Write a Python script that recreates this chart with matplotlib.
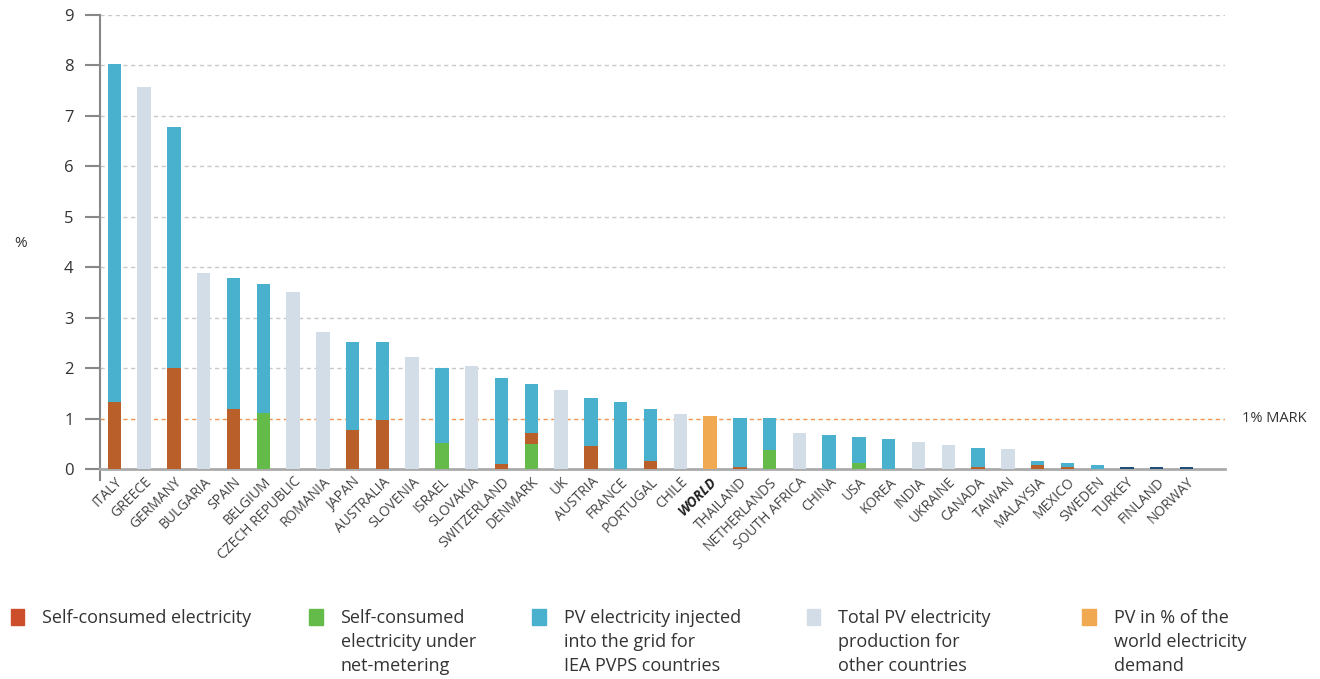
import matplotlib.pyplot as plt
import matplotlib.patches as mpatches
import numpy as np

plt.rcParams['font.family'] = ['Open Sans', 'DejaVu Sans']

countries = ['ITALY', 'GREECE', 'GERMANY', 'BULGARIA', 'SPAIN', 'BELGIUM',
             'CZECH REPUBLIC', 'ROMANIA', 'JAPAN', 'AUSTRALIA', 'SLOVENIA',
             'ISRAEL', 'SLOVAKIA', 'SWITZERLAND', 'DENMARK', 'UK', 'AUSTRIA',
             'FRANCE', 'PORTUGAL', 'CHILE', 'WORLD', 'THAILAND', 'NETHERLANDS',
             'SOUTH AFRICA', 'CHINA', 'USA', 'KOREA', 'INDIA', 'UKRAINE',
             'CANADA', 'TAIWAN', 'MALAYSIA', 'MEXICO', 'SWEDEN', 'TURKEY',
             'FINLAND', 'NORWAY']

# self-consumed electricity
self_cons = [1.33, 0, 2.0, 0, 1.19, 0, 0, 0, 0.77, 0.97, 0,
             0, 0, 0.10, 0.21, 0, 0.46, 0, 0.16, 0, 0, 0.04, 0,
             0, 0, 0, 0, 0, 0, 0.04, 0, 0.08, 0.04, 0, 0, 0, 0]
# self-consumed under net-metering
net_meter = [0, 0, 0, 0, 0, 1.10, 0, 0, 0, 0, 0,
             0.51, 0, 0, 0.50, 0, 0, 0, 0, 0, 0, 0, 0.38,
             0, 0, 0.11, 0, 0, 0, 0, 0, 0, 0, 0, 0, 0, 0]
# injected into the grid (IEA PVPS)
injected = [6.69, 0, 4.77, 0, 2.60, 2.57, 0, 0, 1.75, 1.55, 0,
            1.49, 0, 1.70, 0.98, 0, 0.95, 1.33, 1.03, 0, 0, 0.97, 0.63,
            0, 0.67, 0.52, 0.59, 0, 0, 0.37, 0, 0.07, 0.07, 0.07, 0, 0, 0]
# total PV production, other countries
other_total = [0, 7.57, 0, 3.88, 0, 0, 3.51, 2.72, 0, 0, 2.22,
               0, 2.04, 0, 0, 1.57, 0, 0, 0, 1.09, 0, 0, 0,
               0.71, 0, 0, 0, 0.53, 0.47, 0, 0.39, 0, 0, 0, 0, 0, 0]
# world share
world = [0] * 20 + [1.05] + [0] * 16
# very small values shown in dark blue
tiny = [0] * 34 + [0.04, 0.04, 0.04]

legend_labels = ['Self-consumed electricity',
                 'Self-consumed\nelectricity under\nnet-metering',
                 'PV electricity injected\ninto the grid for\nIEA PVPS countries',
                 'Total PV electricity\nproduction for\nother countries',
                 'PV in % of the\nworld electricity\ndemand']

c_self = '#B95F2A'
c_net = '#65BB4A'
c_inj = '#49B1CE'
c_other = '#D3DDE8'
c_world = '#F0A851'
c_tiny = '#1F4E79'

fig = plt.figure(figsize=(13.2, 6.79), dpi=100)
ax = fig.add_axes([0.0758, 0.3093, 0.852, 0.6686])

x = np.arange(len(countries))
w = 0.45
s = np.array(self_cons)
n = np.array(net_meter)
ax.bar(x, n, w, color=c_net, zorder=3)
ax.bar(x, s, w, bottom=n, color=c_self, zorder=3)
ax.bar(x, injected, w, bottom=n + s, color=c_inj, zorder=3)
ax.bar(x, other_total, w, color=c_other, zorder=3)
ax.bar(x, world, w, color=c_world, zorder=3)
ax.bar(x, tiny, w, color=c_tiny, zorder=3)

ax.set_xlim(-0.48, len(countries) - 1 + 1.28)
ax.set_ylim(0, 9)
ax.set_yticks(range(10))
for yv in range(2, 10):
    ax.axhline(yv, color='#C8C8C8', lw=1, ls=(0, (3, 2.5)), zorder=1)
ax.axhline(1, color='#F2934F', lw=1, ls=(0, (3, 2.5)), zorder=1)
ax.text(1.015, 1, '1% MARK', transform=ax.get_yaxis_transform(),
        va='center', ha='left', fontsize=10.5, color='#333333')

for sp in ['top', 'right']:
    ax.spines[sp].set_visible(False)
ax.spines['left'].set_color('#888888')
ax.spines['left'].set_linewidth(1.5)
ax.spines['bottom'].set_color('#AAAAAA')
ax.spines['bottom'].set_linewidth(2)
# left axis line runs a little below zero
ax.plot([0, 0], [0, -0.22], color='#888888', lw=1.5,
        transform=ax.get_yaxis_transform(), clip_on=False)
ax.tick_params(axis='y', length=11, width=1.5, color='#888888',
               labelsize=12, labelcolor='#333333', pad=8)
ax.tick_params(axis='x', length=0, pad=4)
ax.set_xticks(x)
ax.set_xticklabels(countries, rotation=45, ha='right', rotation_mode='anchor',
                   fontsize=10, color='#444444')
for lbl in ax.get_xticklabels():
    if lbl.get_text() == 'WORLD':
        lbl.set_fontweight('bold')
        lbl.set_fontstyle('italic')
        lbl.set_color('#222222')

fig.text(0.011, 0.642, '%', fontsize=11, color='#333333', ha='left', va='center')

# legend
leg_colors = ['#CC4E2A', c_net, c_inj, c_other, c_world]
leg_x = [0.008, 0.234, 0.403, 0.611, 0.820]
for lx, col, lab in zip(leg_x, leg_colors, legend_labels):
    fig.patches.append(mpatches.Rectangle((lx, 0.079), 0.0105, 0.0235,
                                          color=col, transform=fig.transFigure))
    fig.text(lx + 0.024, 0.103, lab, fontsize=13, color='#333333',
             ha='left', va='top', linespacing=1.42)

fig.savefig('out.png', dpi=100)
